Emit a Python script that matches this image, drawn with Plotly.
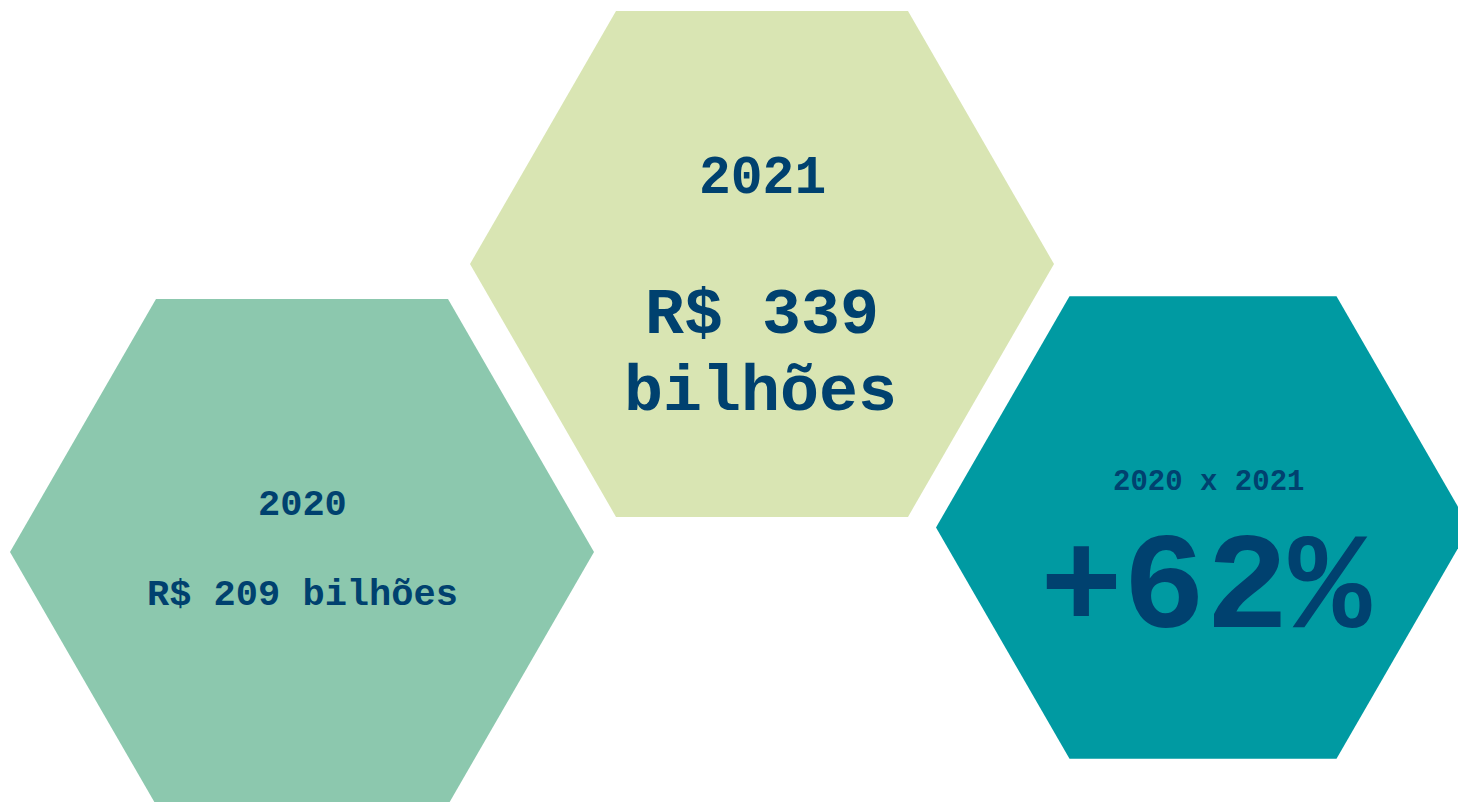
import math
import plotly.graph_objects as go

# ---- data ----
years = ["2020", "2021"]
values_bi = [209, 339]           # R$ bilhões
growth_pct = 62                  # 2020 x 2021

# ---- layout (pixel space) ----
W, H = 1458, 802
hex_centers = [(302, 552), (762, 264), (1203, 527.5)]
hex_radius = [292, 292, 267]
hex_colors = ["#8CC8AE", "#D9E5B3", "#009AA2"]
text_color = "#00416F"
FONT = "Courier New, Liberation Mono, monospace"


def hexagon(cx, cy, r):
    xs, ys = [], []
    for k in range(7):
        a = math.radians(60 * k)
        xs.append(cx + r * math.cos(a))
        ys.append(cy + r * math.sin(a))
    return xs, ys


fig = go.Figure()
for (cx, cy), r, c in zip(hex_centers, hex_radius, hex_colors):
    xs, ys = hexagon(cx, cy, r)
    fig.add_trace(go.Scatter(x=xs, y=ys, mode="lines", fill="toself",
                             fillcolor=c, line=dict(width=0, color=c),
                             hoverinfo="skip", showlegend=False))

labels = [
    # (text, x, y, size)
    (years[0], 302, 505, 37),
    (f"R$ {values_bi[0]} bilhões", 302, 595, 37),
    (years[1], 762, 179, 53),
    (f"R$ {values_bi[1]}", 762, 316, 65),
    ("bilhões", 760, 393, 65),
    (f"{years[0]} x {years[1]}", 1208, 482, 29),
    (f"+{growth_pct}%", 1205, 590, 138),
]
for t, x, y, s in labels:
    fig.add_annotation(x=x, y=y, text=f"<b>{t}</b>", showarrow=False,
                       xanchor="center", yanchor="middle",
                       font=dict(family=FONT, size=s, color=text_color))

fig.update_xaxes(range=[0, W], visible=False, fixedrange=True)
fig.update_yaxes(range=[H, 0], visible=False, fixedrange=True)
fig.update_layout(width=W, height=H,
                  margin=dict(l=0, r=0, t=0, b=0),
                  paper_bgcolor="white", plot_bgcolor="white")

fig.write_html(
    "out.html",
    config={"displayModeBar": False},
    post_script="document.body.style.margin='0';"
                "document.body.style.overflow='hidden';",
)
